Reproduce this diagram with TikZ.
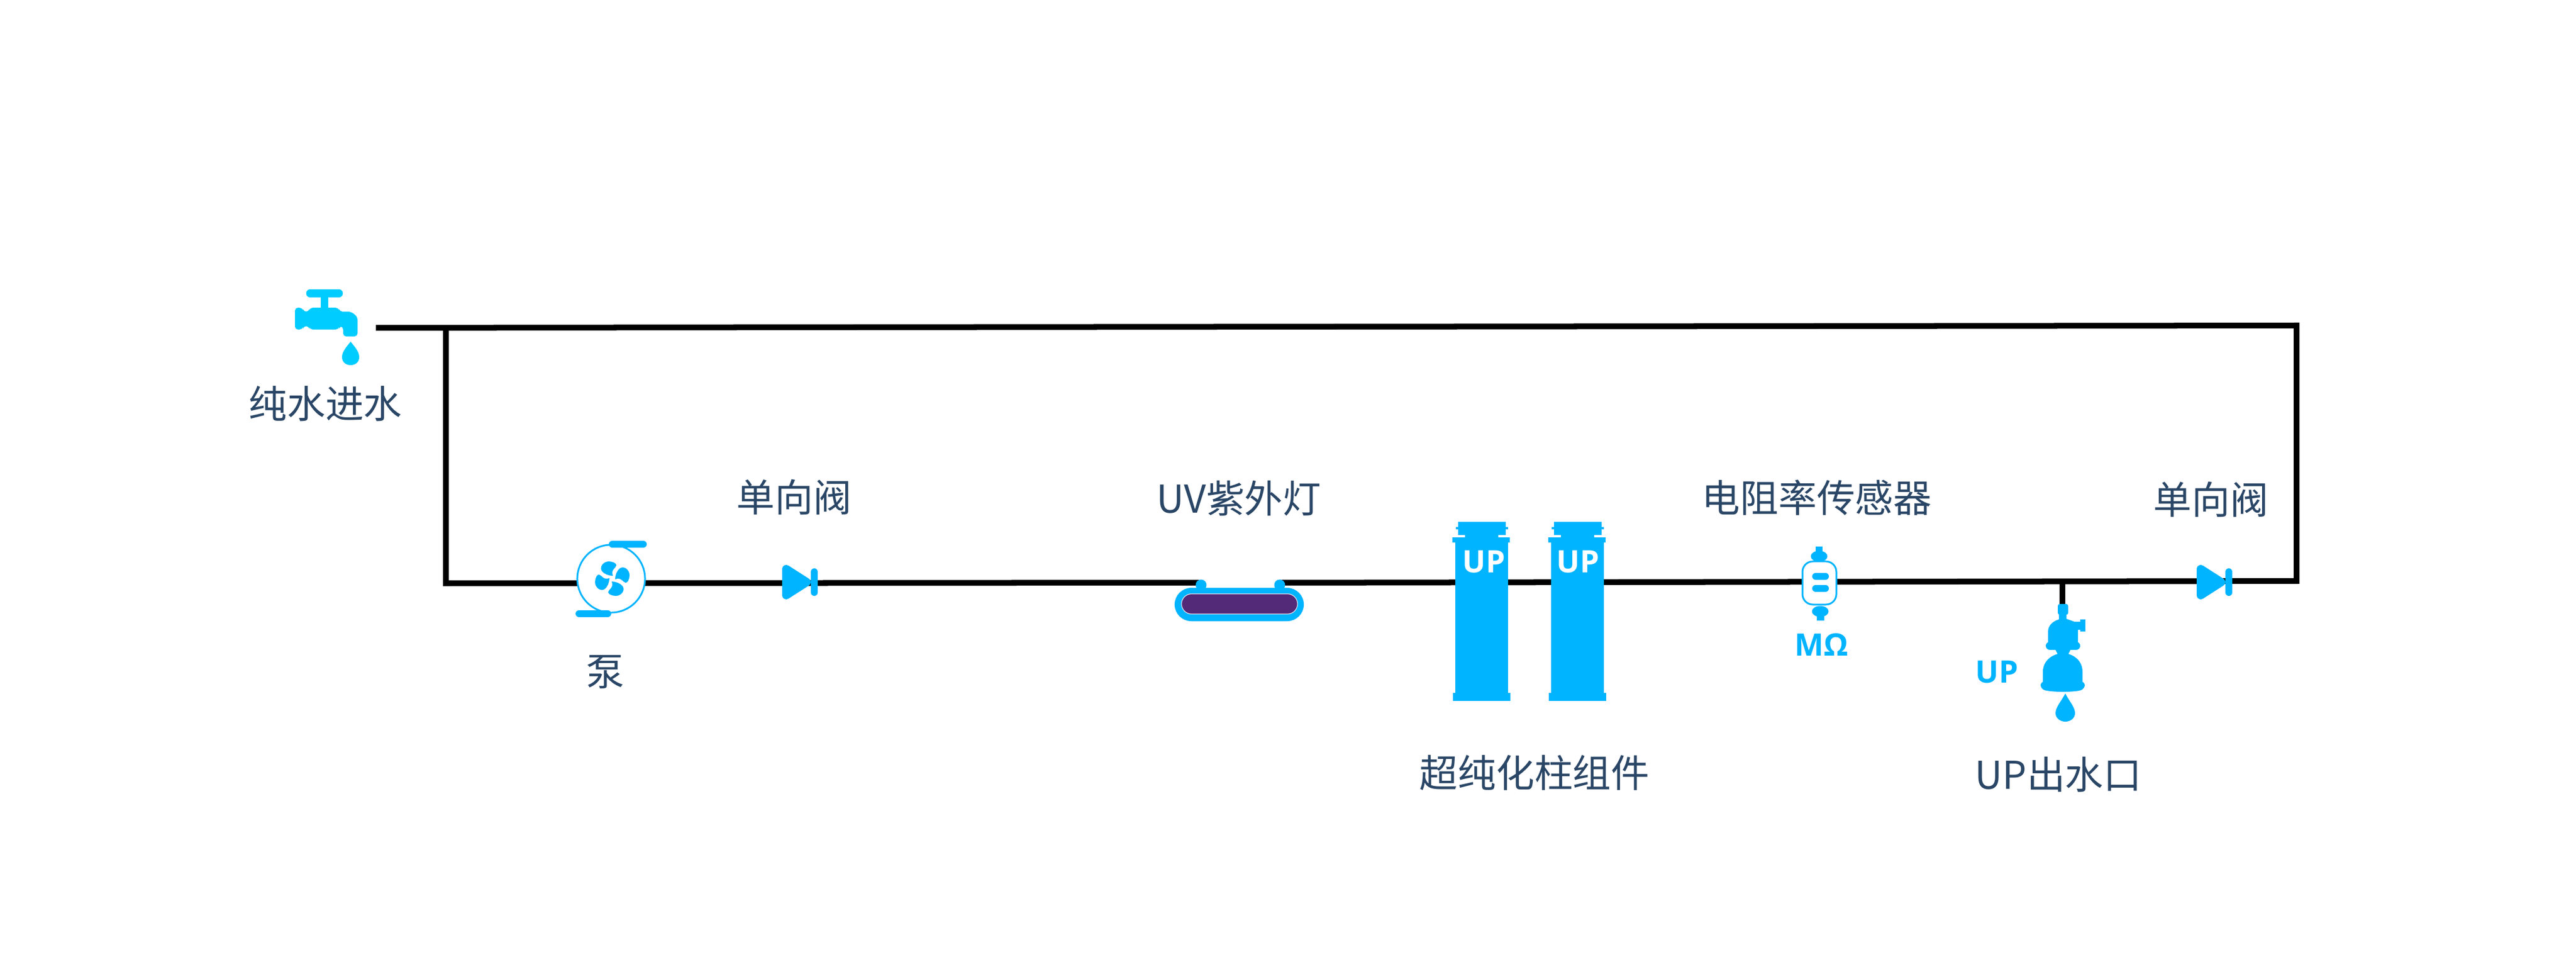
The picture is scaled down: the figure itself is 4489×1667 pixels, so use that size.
\documentclass[tikz,border=0pt]{standalone}
\usepackage{fontspec}
\setmainfont{Noto Sans CJK SC}
\newfontfamily\upfont{Open Sans}
\usepackage{tikz}
\usetikzlibrary{shapes,arrows}

\definecolor{upblue}{HTML}{00B4FF}
\definecolor{tapblue}{HTML}{00CCFF}
\definecolor{labelblue}{HTML}{2A4666}
\definecolor{lamppurple}{HTML}{522A78}

\tikzset{
    pipe/.style={line width=0.1cm,black,line cap=butt,line join=miter},
    label/.style={text=labelblue,font=\fontsize{19}{19}\selectfont,inner sep=0pt},
    uptext/.style={font=\upfont\bfseries\fontsize{15.3}{15.3}\selectfont,inner sep=0pt},
    part/.style={fill=upblue,draw=none},
    bar/.style={line width=0.12cm,upblue,line cap=round},
}

\begin{document}
\begin{tikzpicture}[x=0.01cm,y=-0.01cm]
    \useasboundingbox (0,0) rectangle (4489,1667);
    \pgfmathsetmacro{\py}{1015}

    % Draw the pipes
    \coordinate (inlet) at (655,571);
    \coordinate (teeleft) at (777,570);
    \coordinate (botleft) at (777,1016);
    \coordinate (uvin) at (2093,\py);
    \coordinate (uvout) at (2230,\py);
    \coordinate (botright) at (4002,1012);
    \coordinate (topright) at (4002,567);
    \coordinate (tee) at (3594,1012);
    \coordinate (outletcap) at (3594,1054);
    \draw [pipe] (teeleft) -- (botleft) -- (uvin);
    \draw [pipe] (uvout) -- (botright) -- (topright) -- (inlet);
    \draw [pipe] (tee) -- (outletcap);

    % Draw the tap
    \draw [line width=0.13cm,tapblue,line cap=round] (540,511) -- (591,511);
    \fill [tapblue] (559,515) rectangle (572,540);
    \fill [tapblue,rounded corners=1.5pt] (514,536) -- (527,536) -- (529,543) -- (538,543) -- (540,536)
        -- (590,536) -- (592,543) -- (605,543) -- (612,543) -- (623,552) -- (623,586) -- (598,586)
        -- (598,569) -- (592,568) -- (590,574) -- (540,574) -- (538,568) -- (529,568) -- (527,574)
        -- (514,574) -- cycle;
    \fill [tapblue] (611,595) .. controls (605,603) and (596,612) .. (596,622)
        .. controls (596,631) and (603,636) .. (611,636)
        .. controls (619,636) and (626,631) .. (626,622)
        .. controls (626,612) and (617,603) .. (611,595) -- cycle;

    % Draw the pump
    \node [circle,draw=upblue,fill=white,line width=0.03cm,minimum size=1.18cm,inner sep=0pt] (pump) at (1065,1008) {};
    \draw [bar] (1067,948) -- (1121,948);
    \draw [bar] (1009,1069) -- (1059,1069);
    \foreach \a in {0,90,180,270}
        \fill [upblue,shift={(1067,1008)},rotate=\a] (1,-5) .. controls (-6,-5) and (-14,-8) .. (-18,-13)
            .. controls (-23,-20) and (-16,-30) .. (-6,-30)
            .. controls (0,-30) and (8,-27) .. (7,-23)
            .. controls (6,-18) and (-3,-16) .. (1,-5) -- cycle;

    % Draw the check valves
    \foreach \vx/\vy in {1363/1014,3828/1014} {
        \filldraw [upblue,line width=0.14cm,line join=round] (\vx+7,\vy-23) -- (\vx+43,\vy) -- (\vx+7,\vy+23) -- cycle;
        \draw [bar] (\vx+56,\vy-18) -- (\vx+56,\vy+18);
    }

    % Draw the lamp
    \node [part,minimum width=2.25cm,minimum height=0.58cm,rounded corners=0.29cm,inner sep=0pt] (lamp) at (2159.5,1053) {};
    \node [fill=lamppurple,draw=white!85!lamppurple,line width=0.012cm,minimum width=2.02cm,minimum height=0.35cm,
        rounded corners=0.175cm,inner sep=0pt] (tube) at (2160,1052) {};
    \fill [upblue] (2093,1019) circle (9.5);
    \fill [upblue] (2230,1019) circle (9.5);

    % Draw the columns
    \foreach \i/\cx/\tx in {1/2582/2586,2/2749/2750} {
        \fill [upblue] (\cx-46,945) rectangle (\cx+46,1207);
        \fill [upblue] (\cx-50,1207) rectangle (\cx+50,1221);
        \fill [upblue] (\cx-51,936) rectangle (\cx+49,945);
        \fill [upblue] (\cx-29,932) rectangle (\cx+29,936);
        \fill [upblue] (\cx-41,909) rectangle (\cx+42,932);
        \fill [upblue] (\cx-45,918) rectangle (\cx+46,922);
        \node [uptext,text=white] (up\i) at (\tx,979) {UP};
    }

    % Draw the sensor
    \node [draw=upblue,fill=white,line width=0.03cm,minimum width=0.59cm,minimum height=0.75cm,rounded corners=0.18cm,inner sep=0pt] (sensor) at (3170.5,1015.5) {};
    \draw [bar] (3164,1004) -- (3181,1004);
    \draw [bar] (3164,1025) -- (3181,1025);
    \fill [upblue] (3170,969) ellipse (14.5 and 9.5);
    \fill [upblue] (3164,952) rectangle (3176,964);
    \fill [upblue] (3172,1065) ellipse (14.5 and 9.5);
    \fill [upblue] (3166,1070) rectangle (3179,1081);
    \node [uptext,text=upblue] (mohm) at (3174,1123) {M\char"03A9};

    % Draw the outlet
    \fill [upblue,rounded corners=1pt] (3586,1052) rectangle (3604,1071);
    \fill [upblue] (3588,1070) rectangle (3601,1080);
    \fill [upblue] (3569,1120) -- (3569,1100) .. controls (3569,1088) and (3580,1080) .. (3592,1078)
        -- (3601,1078) -- (3615,1083) -- (3626,1083) -- (3626,1097) -- (3621,1097) -- (3621,1120) -- cycle;
    \fill [upblue] (3625,1079) rectangle (3634,1100);
    \fill [upblue,rounded corners=2pt] (3565,1118) rectangle (3625,1132);
    \fill [upblue] (3581,1130) -- (3609,1130) -- (3604,1140) -- (3586,1140) -- cycle;
    \fill [upblue] (3560,1190) -- (3560,1170) .. controls (3560,1150) and (3578,1138) .. (3595,1138)
        .. controls (3612,1138) and (3629,1150) .. (3629,1170) -- (3629,1190) -- cycle;
    \fill [upblue,rounded corners=2pt] (3556,1187) -- (3633,1187) -- (3633,1200)
        .. controls (3615,1206) and (3575,1206) .. (3556,1200) -- cycle;
    \fill [upblue] (3599,1208) .. controls (3593,1220) and (3582,1232) .. (3582,1242)
        .. controls (3582,1251) and (3590,1257) .. (3599,1257)
        .. controls (3608,1257) and (3616,1251) .. (3616,1242)
        .. controls (3616,1232) and (3605,1220) .. (3599,1208) -- cycle;
    \node [uptext,text=upblue] (uptag) at (3480,1171) {UP};

    % Draw the labels
    \node [label] (lbltap) at (567,703) {纯水进水};
    \node [label] (lblpump) at (1055,1171) {泵};
    \node [label] (lblchecka) at (1384,866) {单向阀};
    \node [label] (lbllamp) at (2159,868) {UV紫外灯};
    \node [label] (lblcols) at (2674,1346) {超纯化柱组件};
    \node [label] (lblsensor) at (3166,867) {电阻率传感器};
    \node [label] (lblcheckb) at (3853,870) {单向阀};
    \node [label] (lbloutlet) at (3587,1349) {UP出水口};

\end{tikzpicture}
\end{document}
